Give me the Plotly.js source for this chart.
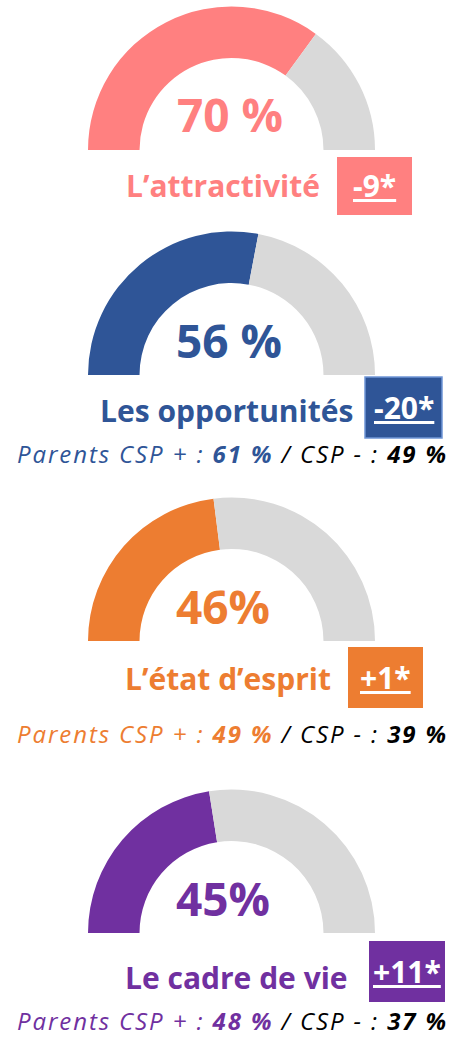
<!DOCTYPE html>
<html>
<head>
<meta charset="utf-8">
<script src="https://cdn.plot.ly/plotly-3.0.1.min.js"></script>
<style>html,body{margin:0;padding:0;background:#fff;width:454px;height:1038px;overflow:hidden;}#chart{width:454px;height:1100px;}</style>
</head>
<body>
<div id="chart"></div>
<script>
// ---- data ----
const categories = ["L’attractivité", "Les opportunités", "L’état d’esprit", "Le cadre de vie"];
const scores = [70, 56, 46, 45];
const scoreLabels = ["70 %", "56 %", "46%", "45%"];
const changes = ["-9*", "-20*", "+1*", "+11*"];
const cspPlus = [null, 61, 49, 48];
const cspMinus = [null, 49, 39, 37];
const colors = ["#FF8080", "#2F5597", "#ED7D31", "#7030A0"];
const greyColor = "#D9D9D9";

// ---- layout geometry (pixels from top) ----
const W = 454, H = 1100;   // paper taller than the window so the last half-donut fits
const cx = 231.5, R = 143.5;
const gaugeBase = [150, 375, 641, 933];
const pctX = [230, 229, 223, 223];
const pctY = [114, 340, 606, 898];
const labelRight = [322, 355, 333, 350];
const labelY = [185, 410, 678, 977];
const boxes = [[337, 412, 157, 215], [365, 442, 377, 438], [348, 423, 647, 708], [369, 445, 941, 1002]];
const subY = [null, 453, 733, 1020];
const fx = p => p / W;
const fy = p => 1 - p / H;
const FONT = "Open Sans";

const data = [];
const annotations = [];
const shapes = [];

scores.forEach((v, i) => {
  data.push({
    type: "pie",
    values: [v, 100 - v, 100],
    labels: ["a", "b", "c"],
    marker: { colors: [colors[i], greyColor, "rgba(0,0,0,0)"], line: { width: 0 } },
    hole: 0.641,
    sort: false,
    direction: "clockwise",
    rotation: -90,
    textinfo: "none",
    hoverinfo: "skip",
    showlegend: false,
    domain: { x: [fx(cx - R), fx(cx + R)], y: [fy(gaugeBase[i] + R), fy(gaugeBase[i] - R)] }
  });

  annotations.push({
    xref: "paper", yref: "paper", x: fx(pctX[i]), y: fy(pctY[i]),
    xanchor: "center", yanchor: "middle", showarrow: false,
    text: scoreLabels[i],
    font: { family: FONT, size: 46, weight: "bold", color: colors[i] }
  });

  annotations.push({
    xref: "paper", yref: "paper", x: fx(labelRight[i]), y: fy(labelY[i]),
    xanchor: "right", yanchor: "middle", showarrow: false,
    text: categories[i],
    font: { family: FONT, size: 30, weight: "bold", color: colors[i] }
  });

  const b = boxes[i];
  shapes.push({
    type: "rect", xref: "paper", yref: "paper",
    x0: fx(b[0]), x1: fx(b[1]), y0: fy(b[3]), y1: fy(b[2]),
    fillcolor: colors[i],
    line: i === 1 ? { color: "#6F95D6", width: 1.5 } : { width: 0 }
  });
  annotations.push({
    xref: "paper", yref: "paper", x: fx((b[0] + b[1]) / 2), y: fy((b[2] + b[3]) / 2),
    xanchor: "center", yanchor: "middle", showarrow: false,
    text: "<u>" + changes[i] + "</u>",
    font: { family: FONT, size: 30, weight: "bold", color: "#FFFFFF" }
  });

  if (cspPlus[i] !== null) {
    annotations.push({
      xref: "paper", yref: "paper", x: fx(232), y: fy(subY[i]),
      xanchor: "center", yanchor: "middle", showarrow: false,
      text: "<i><span style=\"letter-spacing:1.9px\"><span style=\"color:" + colors[i] + "\">Parents CSP + : <b>" + cspPlus[i] +
            " %</b></span> / CSP - : <b>" + cspMinus[i] + " %</b></span></i>",
      font: { family: FONT, size: 24, color: "#000000" }
    });
  }
});

const layout = {
  width: W, height: H,
  margin: { l: 0, r: 0, t: 0, b: 0 },
  paper_bgcolor: "#FFFFFF", plot_bgcolor: "#FFFFFF",
  showlegend: false,
  annotations: annotations,
  shapes: shapes
};

Plotly.newPlot("chart", data, layout, { displayModeBar: false, staticPlot: true });
</script>
</body>
</html>
